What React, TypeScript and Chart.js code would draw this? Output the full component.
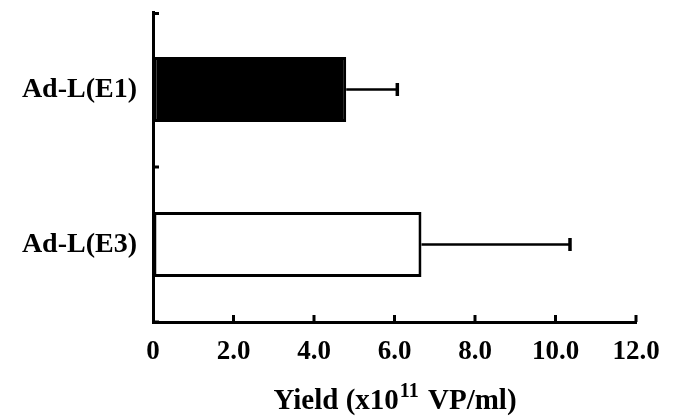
import { useEffect, useRef } from 'react';
import { Chart, registerables } from 'chart.js';

Chart.register(...registerables);

const categories = ['Ad-L(E1)', 'Ad-L(E3)'];
const yieldMeans = [4.8, 6.67];
const yieldErrors = [1.27, 3.69];
const barFills = ['#000000', '#ffffff'];
const xMin = 0;
const xMax = 12;
const xStep = 2;
const titleParts = ['Yield (x10', '11', ' VP/ml)'];

const FONT = '"Liberation Serif", "Times New Roman", serif';

const errorBarPlugin = {
  id: 'errorBars',
  afterDatasetsDraw(chart: any) {
    const ctx = chart.ctx;
    const xs = chart.scales.x;
    const meta = chart.getDatasetMeta(0);
    ctx.save();
    ctx.strokeStyle = '#000';
    meta.data.forEach((el: any, i: number) => {
      const y = el.y;
      const x0 = xs.getPixelForValue(yieldMeans[i]);
      const x1 = xs.getPixelForValue(yieldMeans[i] + yieldErrors[i]);
      ctx.lineWidth = 2.5;
      ctx.beginPath();
      ctx.moveTo(x0, y);
      ctx.lineTo(x1, y);
      ctx.stroke();
      ctx.lineWidth = 3.5;
      ctx.beginPath();
      ctx.moveTo(x1, y - 6.5);
      ctx.lineTo(x1, y + 6.5);
      ctx.stroke();
    });
    ctx.restore();
  },
};

const axisDecorPlugin = {
  id: 'axisDecor',
  afterDraw(chart: any) {
    const ctx = chart.ctx;
    const xs = chart.scales.x;
    const ys = chart.scales.y;
    const area = chart.chartArea;
    ctx.save();
    ctx.strokeStyle = '#000';
    ctx.lineWidth = 3;
    // x ticks pointing up (inside)
    xs.ticks.forEach((t: any) => {
      const px = xs.getPixelForValue(t.value);
      if (t.value === xMin) return;
      ctx.beginPath();
      ctx.moveTo(px, area.bottom);
      ctx.lineTo(px, area.bottom - 7);
      ctx.stroke();
    });
    // y ticks at category boundaries pointing right (inside)
    for (let i = 0; i <= categories.length; i++) {
      const py = ys.getPixelForValue(i - 0.5);
      ctx.beginPath();
      ctx.moveTo(area.left, py + (i === 0 ? 1.5 : 0));
      ctx.lineTo(area.left + 6, py + (i === 0 ? 1.5 : 0));
      ctx.stroke();
    }
    // axis title with superscript
    const big = `bold 29px ${FONT}`;
    const small = `bold 20px ${FONT}`;
    ctx.fillStyle = '#000';
    ctx.textBaseline = 'alphabetic';
    ctx.textAlign = 'left';
    ctx.font = big;
    const w1 = ctx.measureText(titleParts[0]).width;
    const w3 = ctx.measureText(titleParts[2]).width;
    ctx.font = small;
    const w2 = ctx.measureText(titleParts[1]).width + 2;
    const cx = (area.left + area.right) / 2;
    let x = cx - (w1 + w2 + w3) / 2;
    const base = 409;
    ctx.font = big;
    ctx.fillText(titleParts[0], x, base);
    x += w1 + 1;
    ctx.font = small;
    ctx.fillText(titleParts[1], x, base - 12);
    x += w2;
    ctx.font = big;
    ctx.fillText(titleParts[2], x, base);
    ctx.restore();
  },
};

export default function App() {
  const ref = useRef<HTMLCanvasElement | null>(null);

  useEffect(() => {
    if (!ref.current) return;
    const chart = new Chart(ref.current, {
      type: 'bar',
      data: {
        labels: categories,
        datasets: [
          {
            data: yieldMeans,
            backgroundColor: barFills,
            borderColor: '#000',
            borderWidth: 3,
            borderSkipped: false,
            barPercentage: 0.42,
            categoryPercentage: 1,
          },
        ],
      },
      options: {
        indexAxis: 'y',
        responsive: false,
        animation: false,
        layout: { padding: { top: 12, right: 39, left: 0, bottom: 0 } },
        plugins: {
          legend: { display: false },
          tooltip: { enabled: false },
          title: { display: false },
        },
        scales: {
          x: {
            type: 'linear',
            min: xMin,
            max: xMax,
            afterFit: (s: any) => {
              s.height = 97;
            },
            ticks: {
              stepSize: xStep,
              color: '#000',
              padding: 14,
              font: { family: FONT, size: 27, weight: 'bold' },
              callback: (v: any) => (Number(v) === 0 ? '0' : Number(v).toFixed(1)),
            },
            grid: { display: true, drawOnChartArea: false, drawTicks: false },
            border: { display: true, color: '#000', width: 3 },
          },
          y: {
            type: 'category',
            afterFit: (s: any) => {
              s.width = 153;
              s.paddingTop = 0;
              s.paddingBottom = 0;
            },
            ticks: {
              color: '#000',
              padding: 16,
              font: { family: FONT, size: 28, weight: 'bold' },
            },
            grid: { display: true, drawOnChartArea: false, drawTicks: false },
            border: { display: true, color: '#000', width: 3 },
          },
        },
      },
      plugins: [errorBarPlugin, axisDecorPlugin],
    });
    return () => chart.destroy();
  }, []);

  return (
    <div style={{ position: 'fixed', left: 0, top: 0, width: 675, height: 419, background: '#fff' }}>
      <canvas ref={ref} width={675} height={419} />
    </div>
  );
}
